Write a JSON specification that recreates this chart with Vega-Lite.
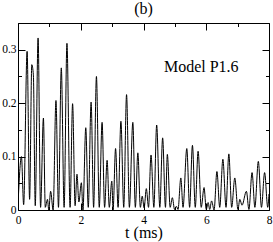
{
  "$schema": "https://vega.github.io/schema/vega-lite/v6.json",
  "width": 251,
  "height": 187,
  "autosize": {"type": "none"},
  "padding": {"left": 18, "top": 23, "right": 4, "bottom": 32},
  "background": "white",
  "config": {
    "view": {"stroke": "black", "strokeWidth": 1},
    "font": "Liberation Serif",
    "axis": {
      "domain": false,
      "grid": false,
      "tickColor": "black",
      "labelColor": "black",
      "labelFont": "Liberation Serif",
      "labelFontSize": 11.5,
      "titleFont": "Liberation Serif",
      "titleFontSize": 16,
      "titleFontWeight": "normal",
      "titleColor": "black"
    },
    "title": {"font": "Liberation Serif", "fontSize": 16, "fontWeight": "normal", "color": "black"}
  },
  "title": {"text": "(b)", "anchor": "middle", "offset": 7, "baseline": "bottom", "dy": 17},
  "data": {
    "values": [
      {"t": 0.0, "v": 0.01}, {"t": 0.11, "v": 0.1}, {"t": 0.18, "v": 0.01}, {"t": 0.29, "v": 0.297},
      {"t": 0.37, "v": 0.02}, {"t": 0.44, "v": 0.272}, {"t": 0.49, "v": 0.253}, {"t": 0.55, "v": 0.008},
      {"t": 0.64, "v": 0.322}, {"t": 0.72, "v": 0.005}, {"t": 0.81, "v": 0.172}, {"t": 0.87, "v": 0.005},
      {"t": 0.94, "v": 0.02}, {"t": 0.98, "v": 0.0}, {"t": 1.04, "v": 0.035}, {"t": 1.12, "v": 0.0},
      {"t": 1.21, "v": 0.205}, {"t": 1.29, "v": 0.005}, {"t": 1.38, "v": 0.266}, {"t": 1.47, "v": 0.005},
      {"t": 1.56, "v": 0.312}, {"t": 1.66, "v": 0.005}, {"t": 1.74, "v": 0.199}, {"t": 1.82, "v": 0.008},
      {"t": 1.88, "v": 0.067}, {"t": 1.94, "v": 0.015}, {"t": 2.02, "v": 0.051}, {"t": 2.07, "v": 0.0},
      {"t": 2.16, "v": 0.154}, {"t": 2.24, "v": 0.005}, {"t": 2.33, "v": 0.202}, {"t": 2.41, "v": 0.005},
      {"t": 2.5, "v": 0.25}, {"t": 2.59, "v": 0.005}, {"t": 2.68, "v": 0.164}, {"t": 2.76, "v": 0.005},
      {"t": 2.84, "v": 0.093}, {"t": 2.91, "v": 0.005}, {"t": 2.99, "v": 0.054}, {"t": 3.03, "v": 0.0},
      {"t": 3.11, "v": 0.115}, {"t": 3.19, "v": 0.005}, {"t": 3.28, "v": 0.166}, {"t": 3.37, "v": 0.005},
      {"t": 3.46, "v": 0.216}, {"t": 3.55, "v": 0.005}, {"t": 3.66, "v": 0.164}, {"t": 3.74, "v": 0.005},
      {"t": 3.82, "v": 0.107}, {"t": 3.9, "v": 0.005}, {"t": 3.96, "v": 0.026}, {"t": 4.02, "v": 0.004},
      {"t": 4.09, "v": 0.04}, {"t": 4.16, "v": 0.005}, {"t": 4.24, "v": 0.103}, {"t": 4.33, "v": 0.005},
      {"t": 4.42, "v": 0.159}, {"t": 4.52, "v": 0.005}, {"t": 4.61, "v": 0.135}, {"t": 4.7, "v": 0.005},
      {"t": 4.76, "v": 0.104}, {"t": 4.85, "v": 0.005}, {"t": 4.92, "v": 0.023}, {"t": 4.99, "v": 0.001},
      {"t": 5.05, "v": 0.007}, {"t": 5.1, "v": 0.001}, {"t": 5.19, "v": 0.06}, {"t": 5.26, "v": 0.005},
      {"t": 5.38, "v": 0.115}, {"t": 5.47, "v": 0.005}, {"t": 5.56, "v": 0.121}, {"t": 5.65, "v": 0.005},
      {"t": 5.74, "v": 0.11}, {"t": 5.84, "v": 0.005}, {"t": 5.93, "v": 0.042}, {"t": 6.0, "v": 0.001},
      {"t": 6.06, "v": 0.014}, {"t": 6.11, "v": 0.001}, {"t": 6.17, "v": 0.017}, {"t": 6.25, "v": 0.0},
      {"t": 6.34, "v": 0.072}, {"t": 6.43, "v": 0.005}, {"t": 6.53, "v": 0.095}, {"t": 6.63, "v": 0.005},
      {"t": 6.72, "v": 0.105}, {"t": 6.81, "v": 0.005}, {"t": 6.91, "v": 0.06}, {"t": 7.01, "v": 0.001},
      {"t": 7.07, "v": 0.02}, {"t": 7.14, "v": 0.009}, {"t": 7.28, "v": 0.035}, {"t": 7.36, "v": 0.001},
      {"t": 7.46, "v": 0.07}, {"t": 7.55, "v": 0.005}, {"t": 7.66, "v": 0.091}, {"t": 7.76, "v": 0.005},
      {"t": 7.86, "v": 0.07}, {"t": 7.96, "v": 0.005}, {"t": 8.0, "v": 0.03}
    ]
  },
  "layer": [
    {
      "mark": {"type": "line", "color": "black", "strokeWidth": 1, "interpolate": "monotone", "clip": true},
      "encoding": {
        "x": {
          "field": "t", "type": "quantitative",
          "scale": {"domain": [0, 8], "nice": false, "zero": false},
          "axis": {
            "orient": "bottom",
            "title": "t (ms)",
            "titlePadding": -1,
            "values": [0, 1, 2, 3, 4, 5, 6, 7, 8],
            "labelExpr": "datum.value % 2 === 0 ? datum.label : ''",
            "labelPadding": 11,
            "labelFlush": false,
            "tickSize": {"condition": {"test": "datum.value % 2 === 0", "value": -7}, "value": -3.5}
          }
        },
        "y": {
          "field": "v", "type": "quantitative",
          "scale": {"domain": [0, 0.35], "nice": false},
          "axis": {
            "orient": "left",
            "title": null,
            "values": [0, 0.05, 0.1, 0.15, 0.2, 0.25, 0.3, 0.35],
            "format": "~g",
            "labelExpr": "abs(datum.value * 10 - round(datum.value * 10)) < 0.001 ? datum.label : ''",
            "labelPadding": 9,
            "labelFlush": false,
            "tickSize": {"condition": {"test": "abs(datum.value * 10 - round(datum.value * 10)) < 0.001", "value": -7}, "value": -3.5}
          }
        }
      }
    },
    {
      "data": {"values": [{"label": "Model P1.6"}]},
      "mark": {"type": "text", "font": "Liberation Serif", "fontSize": 16, "color": "black", "align": "center", "baseline": "alphabetic"},
      "encoding": {
        "text": {"field": "label"},
        "x": {
          "datum": 5.84, "type": "quantitative",
          "axis": {
            "orient": "top",
            "title": null,
            "values": [0, 1, 2, 3, 4, 5, 6, 7, 8],
            "labels": false,
            "tickSize": {"condition": {"test": "datum.value % 2 === 0", "value": -7}, "value": -3.5}
          }
        },
        "y": {
          "datum": 0.258, "type": "quantitative",
          "axis": {
            "orient": "right",
            "title": null,
            "values": [0, 0.05, 0.1, 0.15, 0.2, 0.25, 0.3, 0.35],
            "labels": false,
            "tickSize": {"condition": {"test": "abs(datum.value * 10 - round(datum.value * 10)) < 0.001", "value": -7}, "value": -3.5}
          }
        }
      }
    }
  ],
  "resolve": {"axis": {"x": "independent", "y": "independent"}}
}
